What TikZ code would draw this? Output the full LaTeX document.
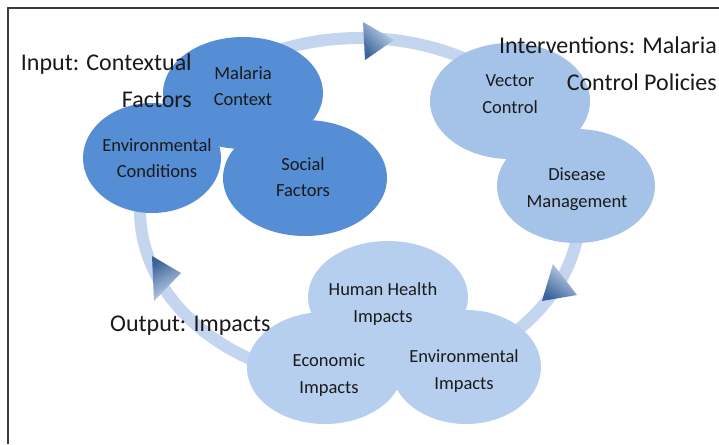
\documentclass[tikz,border=0pt]{standalone}
\usepackage{fontspec}
\setmainfont{Carlito}
\usetikzlibrary{shapes.geometric}
\definecolor{darkblob}{HTML}{558ED5}
\definecolor{midblob}{HTML}{A5C3E9}
\definecolor{lightblob}{HTML}{B7CFEE}
\definecolor{ringc}{HTML}{C3D5EF}
\definecolor{arrowlight}{HTML}{C9D9F1}
\definecolor{arrowmid}{HTML}{A9C0E2}
\definecolor{arrowdark}{HTML}{3A6398}
\definecolor{framec}{HTML}{3C3C3C}
\definecolor{txt}{HTML}{1A1A1A}
\tikzset{
  blob/.style={ellipse, inner sep=0pt, draw=none},
  inblob/.style={blob, fill=darkblob},
  midb/.style={blob, fill=midblob},
  outb/.style={blob, fill=lightblob},
  lbl/.style={align=center, text=txt, font=\fontsize{18.5}{26.5}\selectfont, inner sep=0pt},
  title/.style={text=txt, font=\fontsize{24}{37}\selectfont, inner sep=0pt},
  ring/.style={draw=ringc, line width=12pt},
  arrowtip/.style={top color=arrowlight, middle color=arrowmid, bottom color=arrowdark},
}
\begin{document}
\begin{tikzpicture}[x=1pt,y=-1pt]
\useasboundingbox (0,0) rectangle (719,444);
\fill[white] (0,0) rectangle (719,444);
% frame
\draw[framec, line width=2pt] (8,444) -- (8,8) -- (719,8);
% cycle ring
\coordinate (ringc) at (360,210);
\draw[ring] (ringc) ellipse [x radius=220pt, y radius=172pt];
% arrowheads
\shade[arrowtip, shading angle=-45] (363,22) -- (394,40) -- (365,60) -- cycle;
\shade[arrowtip, shading angle=-35] (553,264) -- (577,295) -- (542,301) -- cycle;
\shade[arrowtip, shading angle=-150] (154,301) -- (152,256) -- (181,273) -- cycle;
% input group
\node[inblob, minimum width=160pt, minimum height=112pt] (mc) at (243,93) {};
\node[inblob, minimum width=138pt, minimum height=110pt] (ec) at (152,158) {};
\node[inblob, minimum width=164pt, minimum height=116pt] (sf) at (305,178) {};
% interventions group
\node[midb, minimum width=160pt, minimum height=116pt] (vc) at (510,101) {};
\node[midb, minimum width=158pt, minimum height=114pt] (dm) at (576,186) {};
% impacts group
\node[outb, minimum width=160pt, minimum height=112pt] (hh) at (388,297) {};
\node[outb, minimum width=156pt, minimum height=112pt] (ei) at (325,368) {};
\node[outb, minimum width=150pt, minimum height=114pt] (en) at (466,367) {};
% labels
\node[lbl] (mct) at (243,86) {Malaria\\Context};
\node[lbl] (ect) at (157,158) {Environmental\\Conditions};
\node[lbl] (sft) at (303,177) {Social\\Factors};
\node[lbl] (vct) at (510,94) {Vector\\Control};
\node[lbl] (dmt) at (577,189) {Disease\\Management};
\node[lbl] (hht) at (383,304) {Human Health\\Impacts};
\node[lbl] (eit) at (329,375) {Economic\\Impacts};
\node[lbl] (ent) at (464,371) {Environmental\\Impacts};
% titles
\node[title, align=right, anchor=north east] (tin) at (192,54) {Input: Contextual\\Factors};
\node[title, align=right, anchor=north east] (tint) at (717,37) {Interventions: Malaria\\Control Policies};
\node[title, anchor=west] (tout) at (110,326) {Output: Impacts};
\end{tikzpicture}
\end{document}
